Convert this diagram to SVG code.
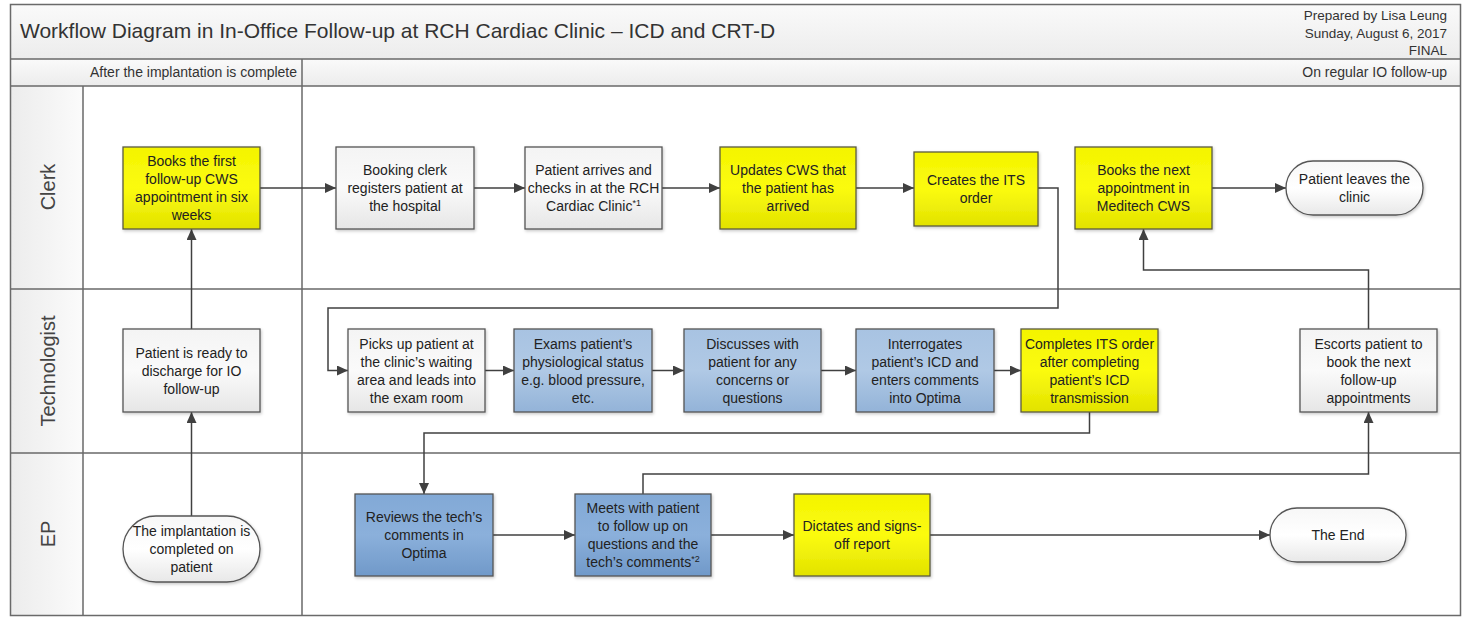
<svg xmlns="http://www.w3.org/2000/svg" width="1463" height="617" viewBox="0 0 1463 617">
<style>
  .frame{fill:none;stroke:#6a6a6a;stroke-width:1.5}
  .ln{stroke:#6a6a6a;stroke-width:1.5;fill:none}
  .t{font-family:"Liberation Sans",Arial,sans-serif;font-size:14px;fill:#222;text-anchor:middle}
  .hdr{font-family:"Liberation Sans",Arial,sans-serif;font-size:13.5px;fill:#333;text-anchor:end}
  .ph{font-family:"Liberation Sans",Arial,sans-serif;font-size:14px;fill:#333;text-anchor:end}
  .lane{font-family:"Liberation Sans",Arial,sans-serif;font-size:20px;fill:#444;text-anchor:middle}
  .title{font-family:"Liberation Sans",Arial,sans-serif;font-size:21px;fill:#333}
  .box{stroke:#555;stroke-width:1.3;filter:url(#sh)}
  .yel{fill:url(#gY);stroke:#5b5b40}
  .gry{fill:url(#gG)}
  .blu{fill:url(#gB)}
  .dbl{fill:url(#gD)}
  .term{fill:url(#gT)}
  .c{fill:none;stroke:#404040;stroke-width:1.5;marker-end:url(#ah)}
  .sup{font-size:9px}
</style>
<defs>
  <linearGradient id="gY" x1="0" y1="0" x2="0" y2="1"><stop offset="0" stop-color="#f4f400"/><stop offset="0.5" stop-color="#fbfb10"/><stop offset="1" stop-color="#e2e200"/></linearGradient>
  <linearGradient id="gG" x1="0" y1="0" x2="0" y2="1"><stop offset="0" stop-color="#f4f4f4"/><stop offset="0.5" stop-color="#fafafa"/><stop offset="1" stop-color="#e6e6e6"/></linearGradient>
  <linearGradient id="gB" x1="0" y1="0" x2="0" y2="1"><stop offset="0" stop-color="#a8c3e2"/><stop offset="0.5" stop-color="#b0c9e5"/><stop offset="1" stop-color="#93b3d8"/></linearGradient>
  <linearGradient id="gD" x1="0" y1="0" x2="0" y2="1"><stop offset="0" stop-color="#82a9d6"/><stop offset="0.5" stop-color="#8bb0db"/><stop offset="1" stop-color="#7099c9"/></linearGradient>
  <linearGradient id="gT" x1="0" y1="0" x2="0" y2="1"><stop offset="0" stop-color="#f7f7f7"/><stop offset="0.5" stop-color="#ffffff"/><stop offset="1" stop-color="#e8e8e8"/></linearGradient>
  <linearGradient id="gH" x1="0" y1="0" x2="0" y2="1"><stop offset="0" stop-color="#fafafa"/><stop offset="1" stop-color="#ececec"/></linearGradient>
  <linearGradient id="gL" x1="0" y1="0" x2="1" y2="0"><stop offset="0" stop-color="#ececec"/><stop offset="1" stop-color="#fbfbfb"/></linearGradient>
  <filter id="sh" x="-10%" y="-10%" width="120%" height="125%"><feDropShadow dx="1" dy="1.5" stdDeviation="1.5" flood-color="#000" flood-opacity="0.22"/></filter>
  <marker id="ah" markerUnits="userSpaceOnUse" markerWidth="12" markerHeight="10" refX="11" refY="5" orient="auto"><path d="M0,0 L11,5 L0,10 z" fill="#404040"/></marker>
</defs>

<g id="pool">
  <rect x="10.5" y="4.5" width="1450" height="611" fill="#fff"/>
  <rect x="10.5" y="4.5" width="1450" height="54.5" fill="url(#gH)"/>
  <rect x="10.5" y="59" width="1450" height="27" fill="url(#gH)"/>
  <rect x="10.5" y="86" width="72.5" height="529.5" fill="url(#gL)"/>
  <rect class="frame" x="10.5" y="4.5" width="1450" height="611"/>
  <path class="ln" d="M10.5,59 H1460.5 M10.5,86 H1460.5 M10.5,289 H1460.5 M10.5,453 H1460.5 M83,86 V615.5 M302,59 V615.5"/>
  <text class="title" x="20" y="38">Workflow Diagram in In-Office Follow-up at RCH Cardiac Clinic – ICD and CRT-D</text>
  <text class="hdr" x="1447" y="20">Prepared by Lisa Leung</text>
  <text class="hdr" x="1447" y="37.5">Sunday, August 6, 2017</text>
  <text class="hdr" x="1447" y="55">FINAL</text>
  <text class="ph" x="297" y="77">After the implantation is complete</text>
  <text class="ph" x="1447" y="77">On regular IO follow-up</text>
  <text class="lane" x="48" y="194" transform="rotate(-90 48 187)">Clerk</text>
  <text class="lane" x="48" y="378" transform="rotate(-90 48 371)">Technologist</text>
  <text class="lane" x="48" y="541" transform="rotate(-90 48 534)">EP</text>
</g>

<g id="connectors">
  <path class="c" d="M191.5,516 V412"/>
  <path class="c" d="M191.5,329 V229"/>
  <path class="c" d="M260,188 H336"/>
  <path class="c" d="M474,188 H525"/>
  <path class="c" d="M662,188 H720"/>
  <path class="c" d="M856,188 H914"/>
  <path class="c" d="M1038,188 H1058 V308 H328 V370.5 H348"/>
  <path class="c" d="M485,370.5 H514"/>
  <path class="c" d="M652,370.5 H684"/>
  <path class="c" d="M821,370.5 H856"/>
  <path class="c" d="M994,370.5 H1021"/>
  <path class="c" d="M1089.5,412 V433 H424 V494"/>
  <path class="c" d="M493,535 H575"/>
  <path class="c" d="M643,494 V474 H1368.5 V412"/>
  <path class="c" d="M1368.5,329 V270 H1143.5 V229"/>
  <path class="c" d="M1212,188 H1286"/>
  <path class="c" d="M711,535 H794"/>
  <path class="c" d="M930,535 H1270"/>
</g>

<g id="n1"><rect class="box yel" x="123" y="147" width="137" height="82"/>
  <text class="t"><tspan x="191.5" y="166">Books the first</tspan><tspan x="191.5" y="184">follow-up CWS</tspan><tspan x="191.5" y="202">appointment in six</tspan><tspan x="191.5" y="220">weeks</tspan></text></g>
<g id="n2"><rect class="box gry" x="336" y="147" width="138" height="82"/>
  <text class="t"><tspan x="405" y="175">Booking clerk</tspan><tspan x="405" y="193">registers patient at</tspan><tspan x="405" y="211">the hospital</tspan></text></g>
<g id="n3"><rect class="box gry" x="525" y="147" width="137" height="82"/>
  <text class="t"><tspan x="593.5" y="175">Patient arrives and</tspan><tspan x="593.5" y="193">checks in at the RCH</tspan><tspan x="593.5" y="211">Cardiac Clinic<tspan class="sup" dy="-5">*1</tspan></tspan></text></g>
<g id="n4"><rect class="box yel" x="720" y="147" width="136" height="82"/>
  <text class="t"><tspan x="788" y="175">Updates CWS that</tspan><tspan x="788" y="193">the patient has</tspan><tspan x="788" y="211">arrived</tspan></text></g>
<g id="n5"><rect class="box yel" x="914" y="152" width="124" height="74"/>
  <text class="t"><tspan x="976" y="185">Creates the ITS</tspan><tspan x="976" y="203">order</tspan></text></g>
<g id="n6"><rect class="box yel" x="1075" y="147" width="137" height="82"/>
  <text class="t"><tspan x="1143.5" y="175">Books the next</tspan><tspan x="1143.5" y="193">appointment in</tspan><tspan x="1143.5" y="211">Meditech CWS</tspan></text></g>
<g id="n7"><rect class="box term" x="1286" y="161" width="137" height="54" rx="27"/>
  <text class="t"><tspan x="1354.5" y="184">Patient leaves the</tspan><tspan x="1354.5" y="202">clinic</tspan></text></g>

<g id="n8"><rect class="box gry" x="123" y="329" width="137" height="83"/>
  <text class="t"><tspan x="191.5" y="357.5">Patient is ready to</tspan><tspan x="191.5" y="375.5">discharge for IO</tspan><tspan x="191.5" y="393.5">follow-up</tspan></text></g>
<g id="n9"><rect class="box gry" x="348" y="329" width="137" height="83"/>
  <text class="t"><tspan x="416.5" y="348.5">Picks up patient at</tspan><tspan x="416.5" y="366.5">the clinic’s waiting</tspan><tspan x="416.5" y="384.5">area and leads into</tspan><tspan x="416.5" y="402.5">the exam room</tspan></text></g>
<g id="n10"><rect class="box blu" x="514" y="329" width="138" height="83"/>
  <text class="t"><tspan x="583" y="348.5">Exams patient’s</tspan><tspan x="583" y="366.5">physiological status</tspan><tspan x="583" y="384.5">e.g. blood pressure,</tspan><tspan x="583" y="402.5">etc.</tspan></text></g>
<g id="n11"><rect class="box blu" x="684" y="329" width="137" height="83"/>
  <text class="t"><tspan x="752.5" y="348.5">Discusses with</tspan><tspan x="752.5" y="366.5">patient for any</tspan><tspan x="752.5" y="384.5">concerns or</tspan><tspan x="752.5" y="402.5">questions</tspan></text></g>
<g id="n12"><rect class="box blu" x="856" y="329" width="138" height="83"/>
  <text class="t"><tspan x="925" y="348.5">Interrogates</tspan><tspan x="925" y="366.5">patient’s ICD and</tspan><tspan x="925" y="384.5">enters comments</tspan><tspan x="925" y="402.5">into Optima</tspan></text></g>
<g id="n13"><rect class="box yel" x="1021" y="329" width="137" height="83"/>
  <text class="t"><tspan x="1089.5" y="348.5">Completes ITS order</tspan><tspan x="1089.5" y="366.5">after completing</tspan><tspan x="1089.5" y="384.5">patient’s ICD</tspan><tspan x="1089.5" y="402.5">transmission</tspan></text></g>
<g id="n14"><rect class="box gry" x="1300" y="329" width="137" height="83"/>
  <text class="t"><tspan x="1368.5" y="348.5">Escorts patient to</tspan><tspan x="1368.5" y="366.5">book the next</tspan><tspan x="1368.5" y="384.5">follow-up</tspan><tspan x="1368.5" y="402.5">appointments</tspan></text></g>

<g id="n15"><rect class="box term" x="123" y="516" width="137" height="66" rx="33"/>
  <text class="t"><tspan x="191.5" y="536">The implantation is</tspan><tspan x="191.5" y="554">completed on</tspan><tspan x="191.5" y="572">patient</tspan></text></g>
<g id="n16"><rect class="box dbl" x="355" y="494" width="138" height="82"/>
  <text class="t"><tspan x="424" y="522">Reviews the tech’s</tspan><tspan x="424" y="540">comments in</tspan><tspan x="424" y="558">Optima</tspan></text></g>
<g id="n17"><rect class="box dbl" x="575" y="494" width="136" height="82"/>
  <text class="t"><tspan x="643" y="513">Meets with patient</tspan><tspan x="643" y="531">to follow up on</tspan><tspan x="643" y="549">questions and the</tspan><tspan x="643" y="567">tech’s comments<tspan class="sup" dy="-5">*2</tspan></tspan></text></g>
<g id="n18"><rect class="box yel" x="794" y="494" width="136" height="82"/>
  <text class="t"><tspan x="862" y="531">Dictates and signs-</tspan><tspan x="862" y="549">off report</tspan></text></g>
<g id="n19"><rect class="box term" x="1270" y="508" width="136" height="54" rx="27"/>
  <text class="t"><tspan x="1338" y="540">The End</tspan></text></g>
</svg>
